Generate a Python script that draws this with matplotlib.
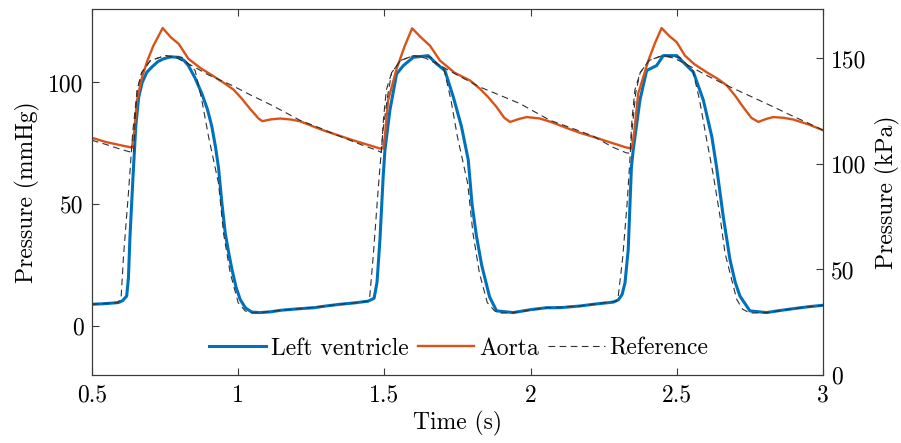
import numpy as np
import matplotlib
matplotlib.use("Agg")
import matplotlib.pyplot as plt

# Ajustes generales de fuente (estilo LaTeX / Computer Modern)
plt.rcParams['font.family'] = ['cmr10', 'DejaVu Serif']
plt.rcParams['mathtext.fontset'] = 'cm'
plt.rcParams['axes.unicode_minus'] = False

# Ventriculo izquierdo (mmHg)
lv_t = [0.50, 0.55, 0.59, 0.605, 0.619, 0.625, 0.63, 0.64, 0.65, 0.66, 0.672, 0.688,
        0.705, 0.725, 0.745, 0.77, 0.797, 0.815, 0.83, 0.852, 0.876, 0.895, 0.91, 0.922,
        0.933, 0.945, 0.956, 0.968, 0.979, 0.993, 1.007, 1.025, 1.047, 1.075, 1.11, 1.15,
        1.211, 1.26, 1.30, 1.348, 1.40, 1.445, 1.465, 1.475, 1.485, 1.496, 1.502, 1.519,
        1.542, 1.565, 1.599, 1.65, 1.679, 1.707, 1.736, 1.764, 1.787, 1.80, 1.815, 1.833,
        1.86, 1.884, 1.941, 2.0, 2.055, 2.101, 2.169, 2.214, 2.283, 2.30, 2.313, 2.323,
        2.334, 2.345, 2.351, 2.374, 2.397, 2.431, 2.454, 2.50, 2.534, 2.557, 2.591, 2.62,
        2.636, 2.659, 2.682, 2.70, 2.716, 2.75, 2.807, 2.85, 2.898, 2.95, 3.0]
lv_p = [9.0, 9.3, 9.7, 10.5, 12.4, 20, 36.2, 60, 82, 94, 100, 104.2,
        106.3, 108.5, 109.7, 110.5, 110.3, 109, 106.9, 102, 95.4, 89, 82, 74,
        65, 50, 38.2, 30, 23.3, 16, 11, 7.5, 5.8, 5.6, 5.9, 6.6,
        7.2, 7.6, 8.3, 9.0, 9.6, 10.3, 11.5, 18, 35.5, 61.3, 72.2, 88.6,
        103.5, 106.9, 110.3, 111, 107.6, 104.9, 94, 81.8, 68.2, 50, 37, 25,
        12, 6.3, 5.6, 6.8, 7.6, 7.6, 8.3, 9.0, 9.9, 10.8, 13, 17.8,
        31.4, 65.4, 72.2, 92.7, 104.9, 106.9, 111, 111, 106.9, 104.2, 92.7, 77.7,
        65.4, 45, 27.3, 18, 12.4, 6.3, 5.6, 6.4, 7.2, 8.0, 8.6]

# Aorta (mmHg)
ao_t = [0.50, 0.55, 0.60, 0.637, 0.645, 0.654, 0.671, 0.69, 0.71, 0.742, 0.77, 0.797,
        0.83, 0.87, 0.91, 0.955, 0.985, 1.013, 1.04, 1.07, 1.083, 1.11, 1.143, 1.18,
        1.211, 1.26, 1.30, 1.35, 1.40, 1.45, 1.485, 1.496, 1.502, 1.513, 1.542, 1.57,
        1.595, 1.625, 1.656, 1.69, 1.74, 1.793, 1.827, 1.855, 1.884, 1.91, 1.93, 1.96,
        1.987, 2.032, 2.07, 2.10, 2.135, 2.17, 2.214, 2.27, 2.328, 2.346, 2.355, 2.368,
        2.403, 2.425, 2.448, 2.475, 2.50, 2.528, 2.56, 2.602, 2.64, 2.671, 2.70, 2.727,
        2.755, 2.779, 2.805, 2.83, 2.865, 2.898, 2.95, 3.0]
ao_p = [77.3, 75.5, 74.2, 73.3, 80, 92.6, 102, 109, 115, 122.3, 118.5, 115.8,
        109.7, 106, 103, 99.5, 97, 93.3, 89.3, 85.2, 84.1, 84.8, 85.2, 84.8,
        84.1, 81.8, 80, 78, 76, 74.2, 72.9, 72.9, 78, 92.7, 105.6, 115,
        122.2, 118.5, 115.1, 109, 104, 100.8, 97.4, 94, 89.9, 85.5, 83.8, 85,
        85.8, 85.2, 83.8, 82.4, 80.8, 79.3, 77.7, 75.5, 73.3, 72.9, 80, 95.4,
        109, 116, 122.3, 119, 116.5, 111, 107.5, 104.2, 101.5, 98.8, 94.5, 89.9,
        85.5, 83.8, 85, 85.8, 85.5, 84.8, 82.8, 80.4]

# Referencia ventriculo (mmHg)
ref_lv_t = [0.50, 0.59, 0.60, 0.608, 0.625, 0.64, 0.655, 0.67, 0.70, 0.751, 0.808, 0.853,
            0.876, 0.899, 0.933, 0.95, 0.973, 1.0, 1.024, 1.05, 1.075, 1.15, 1.211, 1.30,
            1.348, 1.40, 1.445, 1.45, 1.462, 1.478, 1.495, 1.512, 1.525, 1.555, 1.60, 1.66,
            1.705, 1.728, 1.75, 1.785, 1.803, 1.825, 1.852, 1.877, 1.90, 1.941, 2.055, 2.169,
            2.214, 2.294, 2.30, 2.315, 2.33, 2.345, 2.36, 2.375, 2.405, 2.45, 2.51, 2.555,
            2.578, 2.60, 2.625, 2.648, 2.665, 2.682, 2.705, 2.725, 2.75, 2.807, 2.898, 3.0]
ref_lv_p = [9.0, 9.7, 12, 28.7, 54.7, 80, 97, 104, 109, 111, 110.3, 104.9,
            92.7, 77.7, 58.6, 38.2, 21.9, 9.7, 6.3, 5.4, 5.6, 6.6, 7.2, 8.3,
            9.0, 9.6, 10.3, 12, 28.7, 54.7, 80, 95, 104, 109, 111, 110.3,
            104.9, 92.7, 77.7, 58.6, 38.2, 21.9, 9.7, 6.3, 5.4, 5.6, 7.6, 8.3,
            9.0, 10.3, 12.4, 28, 50, 78, 96, 104, 109, 111, 110.3, 104.9,
            92.7, 78, 62, 45, 30, 21.9, 11, 7, 5.4, 5.6, 7.2, 8.6]

# Referencia aorta (mmHg)
ref_ao_t = [0.50, 0.55, 0.60, 0.643, 0.648, 0.655, 0.67, 0.70, 0.751, 0.79, 0.842, 0.90,
            0.979, 1.04, 1.104, 1.16, 1.211, 1.28, 1.35, 1.42, 1.474, 1.49, 1.497, 1.507,
            1.525, 1.555, 1.60, 1.64, 1.69, 1.75, 1.827, 1.90, 1.964, 2.066, 2.14, 2.214,
            2.28, 2.328, 2.34, 2.347, 2.357, 2.375, 2.405, 2.45, 2.49, 2.54, 2.60, 2.671,
            2.74, 2.807, 2.898, 2.95, 3.0]
ref_ao_p = [76.3, 74.5, 72.5, 71.1, 85, 97, 104, 109, 111, 110, 106.9, 103,
            98.8, 95, 91.3, 87.8, 84.5, 81.3, 77.8, 74.5, 72.2, 71.3, 85, 97,
            104, 109, 111, 110, 107, 103, 98.1, 94.5, 91.3, 84.5, 81.3, 78,
            73.5, 71.1, 71, 85, 97, 104, 109, 111, 110, 107, 103, 98.8,
            95, 91.3, 86.1, 83.3, 80.4]

x_ticks = [0.5, 1, 1.5, 2, 2.5, 3]
x_labels = ['0.5', '1', '1.5', '2', '2.5', '3']
y_ticks = [0, 50, 100]
y2_ticks = [0, 50, 100, 150]

AZUL = '#0072BD'
NARANJA = '#D95319'
GRIS_EJE = '#3a3a3a'
GRIS_REF = '#303030'
FS = 17

fig = plt.figure(figsize=(9.01, 4.43), dpi=100)
ax = fig.add_axes([0.102, 0.1535, 0.8114, 0.8255])
ax2 = ax.twinx()

l1, = ax.plot(lv_t, lv_p, color=AZUL, lw=2.2, label='Left ventricle')
l2, = ax.plot(ao_t, ao_p, color=NARANJA, lw=1.7, label='Aorta')
l3, = ax.plot(ref_lv_t, ref_lv_p, color=GRIS_REF, lw=0.8, ls=(0, (6, 4)), label='Reference')
ax.plot(ref_ao_t, ref_ao_p, color=GRIS_REF, lw=0.8, ls=(0, (6, 4)))

ax.set_xlim(0.5, 3)
ax.set_ylim(-20, 130)
ax2.set_ylim(0, 173.3)

ax.set_xticks(x_ticks)
ax.set_xticklabels(x_labels)
ax.set_yticks(y_ticks)
ax.set_yticklabels([str(v) for v in y_ticks])
ax2.set_yticks(y2_ticks)
ax2.set_yticklabels([str(v) for v in y2_ticks])

for a in (ax, ax2):
    for s in a.spines.values():
        s.set_color(GRIS_EJE)
        s.set_linewidth(0.8)
ax.tick_params(axis='x', direction='in', top=True, length=5, width=0.8, color=GRIS_EJE,
               labelsize=FS, pad=7)
ax.tick_params(axis='y', direction='in', length=5, width=0.8, color=GRIS_EJE,
               labelsize=FS, pad=6)
ax2.tick_params(axis='y', direction='in', length=5, width=0.8, color=GRIS_EJE,
                labelsize=FS, pad=6)

ax.set_xlabel('Time (s)', fontsize=FS, labelpad=3)
ax.set_ylabel('Pressure (mmHg)', fontsize=FS, labelpad=6)
ax2.set_ylabel('Pressure (kPa)', fontsize=FS, labelpad=6)

ax.legend(handles=[l1, l2, l3], loc='center', bbox_to_anchor=(0.502, 0.072), ncol=3,
          frameon=False, fontsize=FS, handlelength=2.4, handletextpad=0.2,
          columnspacing=0.4)

fig.savefig('out.png', dpi=100)
